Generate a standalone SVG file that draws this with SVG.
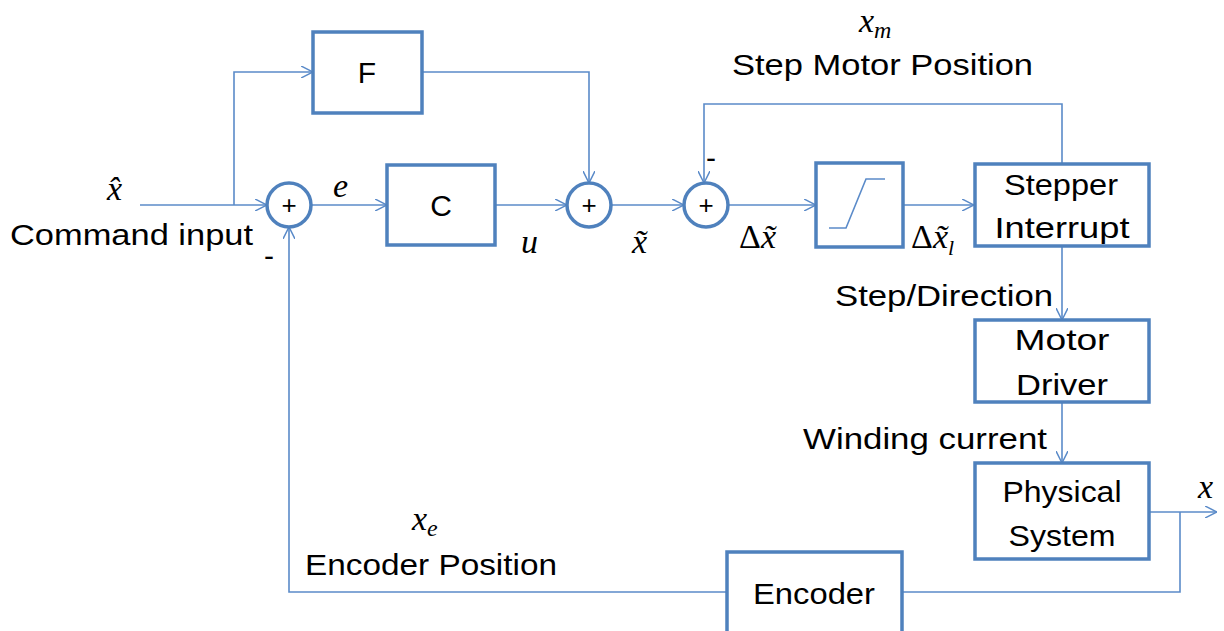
<svg xmlns="http://www.w3.org/2000/svg" width="1224" height="631" viewBox="0 0 1224 631">
<defs>
<marker id="arr" viewBox="0 0 12 12" markerWidth="12" markerHeight="12" markerUnits="userSpaceOnUse" refX="12" refY="6" orient="auto">
<path d="M0,0 L12,6 L0,12" fill="none" stroke="#5B8BC9" stroke-width="1.5"/>
</marker>
</defs>
<style>
.box{fill:#fff;stroke:#4F81BD;stroke-width:3.5}
.sum{fill:#fff;stroke:#4F81BD;stroke-width:3.5}
.ln{fill:none;stroke:#5B8BC9;stroke-width:1.6}
.t{font-family:"Liberation Sans",Arial,sans-serif;font-size:30px;fill:#000}
.c{text-anchor:middle}
.m{font-family:"Liberation Serif","Times New Roman",serif;font-style:italic;font-size:34px;fill:#000}
.ms{font-family:"Liberation Serif","Times New Roman",serif;font-style:normal;font-size:32px;fill:#000}
.p{font-family:"Liberation Sans",Arial,sans-serif;font-size:26px;fill:#000;text-anchor:middle}
</style>
<rect width="1224" height="631" fill="#fff"/>
<g id="connectors">
<path class="ln" d="M140,205 H267" marker-end="url(#arr)"/>
<path class="ln" d="M234,205 V72 H313" marker-end="url(#arr)"/>
<path class="ln" d="M422,72 H589 V183" marker-end="url(#arr)"/>
<path class="ln" d="M311,205 H387" marker-end="url(#arr)"/>
<path class="ln" d="M495,205 H567" marker-end="url(#arr)"/>
<path class="ln" d="M611,205 H684" marker-end="url(#arr)"/>
<path class="ln" d="M728,205 H816" marker-end="url(#arr)"/>
<path class="ln" d="M903,205 H974" marker-end="url(#arr)"/>
<path class="ln" d="M1062,164 V104 H704 V183" marker-end="url(#arr)"/>
<path class="ln" d="M1062,246 V320" marker-end="url(#arr)"/>
<path class="ln" d="M1062,402 V463" marker-end="url(#arr)"/>
<path class="ln" d="M1149,512 H1217" marker-end="url(#arr)"/>
<path class="ln" d="M1180,512 V592 H902"/>
<path class="ln" d="M727,592 H289 V227" marker-end="url(#arr)"/>
</g>
<g id="sum1"><circle class="sum" cx="289" cy="205" r="22"/><text class="p" x="289" y="214">+</text></g>
<g id="sum2"><circle class="sum" cx="589" cy="205" r="22"/><text class="p" x="589" y="214">+</text></g>
<g id="sum3"><circle class="sum" cx="706" cy="205" r="22"/><text class="p" x="706" y="214">+</text></g>
<g id="F"><rect class="box" x="313" y="32" width="109" height="81"/><text class="t c" x="367" y="83">F</text></g>
<g id="C"><rect class="box" x="387" y="165" width="108" height="80"/><text class="t c" x="441" y="216">C</text></g>
<g id="saturation"><rect class="box" x="816" y="163" width="87" height="84"/><path d="M829,228 H846 L866,179 H885" fill="none" stroke="#5B8BC9" stroke-width="1.6"/></g>
<g id="stepper"><rect class="box" x="975" y="164" width="174" height="82"/><text class="t c" x="1061" y="195" textLength="114" lengthAdjust="spacingAndGlyphs">Stepper</text><text class="t c" x="1062" y="238" textLength="135" lengthAdjust="spacingAndGlyphs">Interrupt</text></g>
<g id="driver"><rect class="box" x="975" y="320" width="174" height="82"/><text class="t c" x="1062" y="350" textLength="95" lengthAdjust="spacingAndGlyphs">Motor</text><text class="t c" x="1062" y="395" textLength="92" lengthAdjust="spacingAndGlyphs">Driver</text></g>
<g id="physical"><rect class="box" x="975" y="463" width="174" height="96"/><text class="t c" x="1062" y="502" textLength="119" lengthAdjust="spacingAndGlyphs">Physical</text><text class="t c" x="1062" y="546" textLength="107" lengthAdjust="spacingAndGlyphs">System</text></g>
<g id="encoder"><rect class="box" x="727" y="552" width="175" height="100"/><text class="t c" x="814" y="604" textLength="122" lengthAdjust="spacingAndGlyphs">Encoder</text></g>
<g id="labels">
<text class="m" x="107" y="200">x̂</text>
<text class="t" x="10" y="245" textLength="243" lengthAdjust="spacingAndGlyphs">Command input</text>
<text class="t" x="264" y="266">-</text>
<text class="m" x="333" y="197">e</text>
<text class="m" x="521" y="253">u</text>
<text class="m" x="632" y="253">x̃</text>
<text class="m" x="739" y="248"><tspan font-style="normal">Δ</tspan>x̃</text>
<text class="m" x="911" y="248"><tspan font-style="normal">Δ</tspan>x̃<tspan font-size="22" dy="7">l</tspan></text>
<text class="t" x="706" y="168">-</text>
<text class="m" x="859" y="32">x<tspan font-size="24" dy="6">m</tspan></text>
<text class="t" x="732" y="75" textLength="301" lengthAdjust="spacingAndGlyphs">Step Motor Position</text>
<text class="t" x="835" y="306" textLength="218" lengthAdjust="spacingAndGlyphs">Step/Direction</text>
<text class="t" x="803" y="449" textLength="244" lengthAdjust="spacingAndGlyphs">Winding current</text>
<text class="m" x="1198" y="498">x</text>
<text class="m" x="412" y="530">x<tspan font-size="24" dy="6">e</tspan></text>
<text class="t" x="305" y="575" textLength="252" lengthAdjust="spacingAndGlyphs">Encoder Position</text>
</g>
</svg>
